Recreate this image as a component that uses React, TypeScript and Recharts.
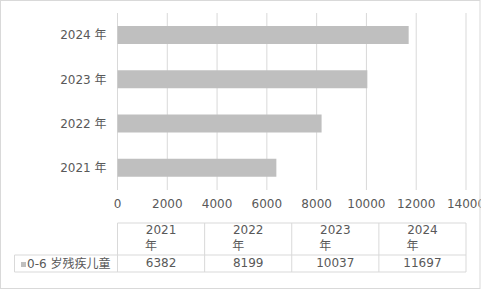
import React from 'react';
import { BarChart, Bar, XAxis, YAxis, CartesianGrid } from 'recharts';

const years = ['2021 年', '2022 年', '2023 年', '2024 年'];
const children = [6382, 8199, 10037, 11697];
const xTicks = [0, 2000, 4000, 6000, 8000, 10000, 12000, 14000];
const seriesName = '0-6 岁残疾儿童';

const dataset = years.map((y, i) => ({ year: y, value: children[i] }));

const FONT = '"DejaVu Sans", "Noto Sans CJK SC", sans-serif';
const TEXT = '#595959';
const LINE = '#d9d9d9';
const BAR = '#bfbfbf';

// plot edges (table columns line up with them)
const left = 117.5;
const right = 466;
const colW = (right - left) / years.length;

document.body.style.margin = '0';

function DataTable() {
  const top = 223;
  const mid = 255;
  const bottom = 272;
  return (
    <svg width={481} height={290} style={{ position: 'absolute', left: 0, top: 0, pointerEvents: 'none' }}>
      <rect x={0.5} y={0.5} width={479.5} height={288} fill="none" stroke={LINE} />
      <line x1={left} y1={top} x2={right} y2={top} stroke={LINE} />
      <line x1={14.5} y1={mid} x2={right} y2={mid} stroke={LINE} />
      <line x1={14.5} y1={bottom} x2={right} y2={bottom} stroke={LINE} />
      <line x1={14.5} y1={mid} x2={14.5} y2={bottom} stroke={LINE} />
      {years.map((_, i) => (
        <line key={i} x1={left + i * colW} y1={top} x2={left + i * colW} y2={bottom} stroke={LINE} />
      ))}
      <line x1={right} y1={top} x2={right} y2={bottom} stroke={LINE} />
      {years.map((y, i) => {
        const [num, unit] = y.split(' ');
        const cx = left + i * colW + colW / 2;
        return (
          <g key={y} fontFamily={FONT} fontSize={12} fill={TEXT}>
            <text x={cx} y={234} textAnchor="middle">{num}</text>
            <text x={cx - 10} y={250} textAnchor="middle">{unit}</text>
            <text x={cx} y={267} textAnchor="middle">{children[i]}</text>
          </g>
        );
      })}
      <rect x={21} y={262} width={5} height={5} fill={BAR} />
      <text x={27} y={268} fontFamily={FONT} fontSize={12} fill={TEXT}>{seriesName}</text>
    </svg>
  );
}

export default function App() {
  return (
    <div style={{ position: 'relative', width: 481, height: 290, background: '#fff' }}>
      <BarChart
        width={481}
        height={290}
        data={dataset}
        layout="vertical"
        margin={{ top: 13, right: 15, left: 0, bottom: 70 }}
      >
        <CartesianGrid horizontal={false} stroke={LINE} />
        <XAxis
          type="number"
          domain={[0, 14000]}
          ticks={xTicks}
          axisLine={false}
          tickLine={false}
          height={30}
          tickSize={0}
          tickMargin={9}
          interval={0}
          tick={{ fill: TEXT, fontSize: 12, fontFamily: FONT }}
        />
        <YAxis
          type="category"
          dataKey="year"
          reversed
          width={117.5}
          axisLine={false}
          tickLine={false}
          tickSize={0}
          tickMargin={11}
          tick={{ fill: TEXT, fontSize: 12, fontFamily: FONT }}
        />
        <Bar dataKey="value" fill={BAR} barSize={18} isAnimationActive={false} />
      </BarChart>
      <DataTable />
    </div>
  );
}
